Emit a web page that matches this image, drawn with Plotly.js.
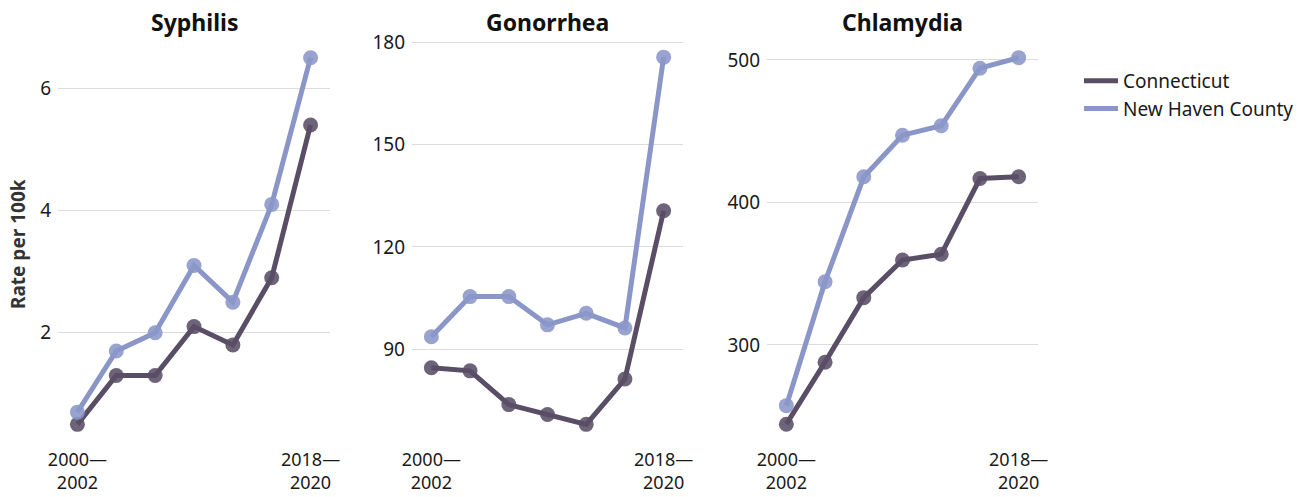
<!DOCTYPE html>
<html>
<head>
<meta charset="utf-8">
<script src="https://cdn.plot.ly/plotly-3.0.1.min.js"></script>
<style>html,body{margin:0;padding:0;background:#fff;} #chart{width:1307px;height:497px;}</style>
</head>
<body>
<div id="chart"></div>
<script>
const periods = ["2000–2002","2003–2005","2006–2008","2009–2011","2012–2014","2015–2017","2018–2020"];
const tickPeriods = ["2000–2002","2018–2020"];
const tickLabels = ["2000—<br>2002","2018—<br>2020"];
const diseases = ["Syphilis","Gonorrhea","Chlamydia"];
const seriesNames = ["Connecticut","New Haven County"];

const syphilisCT  = [0.5, 1.3, 1.3, 2.1, 1.8, 2.9, 5.4];
const syphilisNHC = [0.7, 1.7, 2.0, 3.1, 2.5, 4.1, 6.5];
const gonorrheaCT  = [84.5, 83.6, 73.7, 70.8, 67.9, 81.2, 130.6];
const gonorrheaNHC = [93.6, 105.4, 105.4, 97.1, 100.5, 96.2, 175.7];
const chlamydiaCT  = [244.4, 287.9, 333.2, 359.6, 363.6, 416.8, 418.0];
const chlamydiaNHC = [257.4, 344.4, 418.0, 447.2, 453.8, 494.2, 501.6];

const ticks1 = [2, 4, 6];
const ticks2 = [90, 120, 150, 180];
const ticks3 = [300, 400, 500];

const colors = ["#5a4e66", "#8b96c8"];
const FONT = "'Noto Sans', 'Open Sans', sans-serif";

const panelData = [
  [syphilisCT, syphilisNHC],
  [gonorrheaCT, gonorrheaNHC],
  [chlamydiaCT, chlamydiaNHC]
];
const traces = [];
panelData.forEach((pair, p) => {
  const ax = p === 0 ? "" : String(p + 1);
  pair.forEach((vals, s) => {
    traces.push({
      type: "scatter", mode: "lines", x: periods, y: vals,
      xaxis: "x" + ax, yaxis: "y" + ax,
      name: seriesNames[s], legendgroup: seriesNames[s],
      showlegend: p === 0,
      line: {color: colors[s], width: 5},
      hoverinfo: "skip"
    });
    traces.push({
      type: "scatter", mode: "markers", x: periods, y: vals,
      xaxis: "x" + ax, yaxis: "y" + ax,
      name: seriesNames[s], legendgroup: seriesNames[s],
      showlegend: false,
      marker: {color: colors[s], size: 15, opacity: 0.88}
    });
  });
});

const xdoms = [[58/1307, 330/1307], [412/1307, 683/1307], [767/1307, 1038/1307]];
const ydom = [1 - 440/497, 1 - 35/497];
const yranges = [[0.244, 6.872], [63.3, 182.2], [233.3, 517.5]];
const ytickvals = [ticks1, ticks2, ticks3];

const layout = {
  width: 1307, height: 497,
  margin: {l: 0, r: 0, t: 0, b: 0},
  paper_bgcolor: "#ffffff", plot_bgcolor: "#ffffff",
  font: {family: FONT, size: 18, color: "#1a1a1a"},
  showlegend: true,
  legend: {
    x: 1079/1307, y: 1 - 62/497, xanchor: "left", yanchor: "top",
    font: {family: FONT, size: 19, color: "#1a1a1a"},
    traceorder: "normal", tracegroupgap: 0, itemwidth: 34
  },
  annotations: [],
};
for (let p = 0; p < 3; p++) {
  const ax = p === 0 ? "" : String(p + 1);
  layout["xaxis" + ax] = {
    domain: xdoms[p], type: "category", range: [-0.5, 6.5],
    tickvals: tickPeriods, ticktext: tickLabels,
    showgrid: false, zeroline: false, showline: false, ticks: "",
    tickfont: {family: FONT, size: 18, color: "#1a1a1a"},
    anchor: "y" + ax, fixedrange: true, automargin: false,
    ticklabelstandoff: 7
  };
  layout["yaxis" + ax] = {
    domain: ydom, range: yranges[p], tickvals: ytickvals[p],
    showgrid: true, gridcolor: "#dcdcdc", gridwidth: 1,
    zeroline: false, showline: false, ticks: "",
    tickfont: {family: FONT, size: 19, color: "#1a1a1a"},
    anchor: "x" + ax, fixedrange: true, automargin: false,
    ticklabelstandoff: 6
  };
  layout.annotations.push({
    text: "<b>" + diseases[p] + "</b>", xref: "paper", yref: "paper",
    x: (xdoms[p][0] + xdoms[p][1]) / 2, y: 1 - 22/497,
    xanchor: "center", yanchor: "middle", showarrow: false,
    font: {family: FONT, size: 23, color: "#111111"}
  });
}
layout.annotations.push({
  text: "<b>Rate per 100k</b>", xref: "paper", yref: "paper",
  x: 18/1307, y: 1 - 244/497, xanchor: "center", yanchor: "middle",
  textangle: -90, showarrow: false,
  font: {family: FONT, size: 19, color: "#333333"}
});

Plotly.newPlot("chart", traces, layout, {displayModeBar: false, staticPlot: true});
</script>
</body>
</html>
